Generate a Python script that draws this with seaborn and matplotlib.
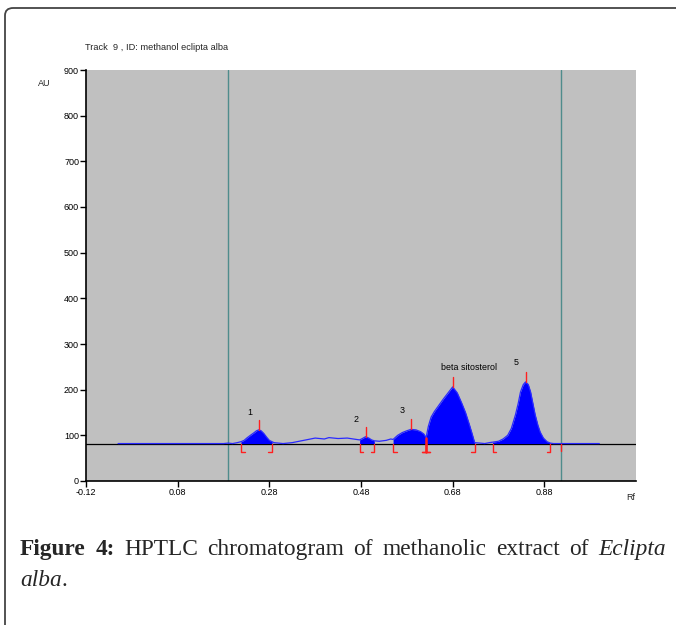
import numpy as np
import pandas as pd
import matplotlib
matplotlib.use("Agg")
import matplotlib.pyplot as plt
import seaborn as sns
from matplotlib.patches import FancyBboxPatch

# densitometric trace (Rf, AU)
rf = [-0.05, 0.18, 0.19, 0.20, 0.21, 0.218, 0.225, 0.232, 0.24, 0.247, 0.252, 0.257,
      0.262, 0.268, 0.274, 0.28, 0.286, 0.29, 0.30, 0.31, 0.33, 0.35, 0.37, 0.38,
      0.40, 0.41, 0.43, 0.45, 0.47, 0.477, 0.483, 0.49, 0.497, 0.503, 0.509, 0.52,
      0.535, 0.545, 0.55, 0.56, 0.57, 0.58, 0.589, 0.60, 0.61, 0.617, 0.622,
      0.627, 0.633, 0.64, 0.65, 0.66, 0.67, 0.68, 0.69, 0.70, 0.708, 0.716, 0.722,
      0.728, 0.74, 0.75, 0.76, 0.767, 0.78, 0.79, 0.80, 0.808, 0.817, 0.823, 0.828,
      0.834, 0.839, 0.845, 0.85, 0.855, 0.86, 0.866, 0.871, 0.878, 0.886, 0.893,
      0.90, 0.92, 1.0]
au = [82, 82, 83, 82, 84, 86, 89, 95, 101, 106, 110, 112,
      110, 104, 96, 89, 86, 84, 83, 82, 84, 88, 92, 94,
      92, 95, 93, 94, 91, 90, 93, 97, 94, 90, 88, 87,
      89, 92, 91, 100, 106, 110, 113, 112, 108, 103, 95,
      120, 140, 152, 166, 180, 193, 206, 193, 170, 150, 125, 105,
      84, 83, 82, 84, 85, 87, 92, 100, 115, 145, 170, 195,
      211, 217, 211, 195, 170, 145, 122, 107, 94, 86, 83,
      82, 82, 82]
baseline = 82

peak_labels = ["1", "2", "3", "beta sitosterol", "5"]
peak_start = [0.218, 0.477, 0.550, 0.622, 0.767]
peak_end = [0.286, 0.509, 0.622, 0.728, 0.893]
peak_max_rf = [0.257, 0.49, 0.589, 0.68, 0.839]
peak_max_au = [112, 97, 113, 206, 217]

front_lines = [0.19, 0.917]
xticks = [-0.12, 0.08, 0.28, 0.48, 0.68, 0.88]
yticks = list(range(0, 1000, 100))

df = pd.DataFrame({"Rf": rf, "AU": au})

sns.set_style("white")
plt.rcParams["font.family"] = ["Liberation Sans", "DejaVu Sans"]

fig = plt.figure(figsize=(6.76, 6.25), dpi=100)

# outer frame (rounded corner at top-left)
frame = FancyBboxPatch((5 / 676, -0.2), 1.3, 1.2 - 8 / 625,
                       boxstyle="round,pad=0,rounding_size=0.012",
                       transform=fig.transFigure, fill=False,
                       edgecolor="#444444", linewidth=1.3)
fig.patches.append(frame)

ax = fig.add_axes([86 / 676, 1 - 481 / 625, 550 / 676, 411 / 625])
ax.set_facecolor("#c0c0c0")
ax.set_xlim(-0.12, 1.08)
ax.set_ylim(0, 900)

# baseline across the whole plate
ax.axhline(baseline, color="black", linewidth=0.9, zorder=2)
for f in front_lines:
    ax.axvline(f, color="#4f8c8c", linewidth=1.0, zorder=1)

# filled peak areas
x = np.array(rf)
y = np.array(au)
for s, e in zip(peak_start, peak_end):
    m = (x >= s - 1e-9) & (x <= e + 1e-9)
    ax.fill_between(x[m], baseline, y[m], color="#0000ff", linewidth=0, zorder=3)

sns.lineplot(data=df, x="Rf", y="AU", color="#2a2aff", linewidth=0.9, ax=ax,
             zorder=4, estimator=None, sort=False)

red = "#ff2020"
# apex ticks
for r, a in zip(peak_max_rf, peak_max_au):
    ax.plot([r, r], [a, a + 22], color=red, linewidth=1.0, zorder=5)
# start / end brackets
for s, e in zip(peak_start, peak_end):
    ax.plot([s, s, s + 0.008], [baseline, 63, 63], color=red, linewidth=1.0, zorder=5)
    ax.plot([e, e, e - 0.008], [baseline, 63, 63], color=red, linewidth=1.0, zorder=5)
ax.plot([0.622, 0.622], [95, 63], color=red, linewidth=1.8, zorder=5)
ax.plot([0.614, 0.630], [63, 63], color=red, linewidth=1.0, zorder=5)
ax.plot([front_lines[1], front_lines[1]], [baseline, 66], color=red, linewidth=1.0, zorder=5)

# peak labels
lab_pos = [(0.231, 140), (0.463, 125), (0.565, 145), (0.655, 238), (0.813, 250)]
for t, (px, py) in zip(peak_labels, lab_pos):
    ax.text(px, py, t, fontsize=6.4, ha="left", va="bottom", color="black")

ax.set_xticks(xticks)
ax.set_xticklabels([f"{v:.2f}" for v in xticks])
ax.set_yticks(yticks)
ax.tick_params(axis="both", direction="out", length=4, width=1, labelsize=6.5,
               colors="black", pad=1)
ax.tick_params(left=True, bottom=True)
for side in ["top", "right"]:
    ax.spines[side].set_visible(False)
for side in ["left", "bottom"]:
    ax.spines[side].set_color("black")
    ax.spines[side].set_linewidth(1.2)
ax.set_xlabel("")
ax.set_ylabel("")

fig.text(85 / 676, 1 - 47 / 625, "Track  9 , ID: methanol eclipta alba",
         fontsize=6.7, va="center", ha="left")
fig.text(38 / 676, 1 - 84 / 625, "AU", fontsize=6.5, va="center", ha="left")
fig.text(626 / 676, 1 - 497 / 625, "Rf", fontsize=6.5, va="center", ha="left")

# caption: first line justified, mixed styles
fig.canvas.draw()
renderer = fig.canvas.get_renderer()
cap_size = 16.8
cap_font = "Liberation Serif"

words1 = [("Figure", {"weight": "bold"}), ("4:", {"weight": "bold"}),
          ("HPTLC", {}), ("chromatogram", {}), ("of", {}), ("methanolic", {}),
          ("extract", {}), ("of", {}), ("Eclipta", {"style": "italic"})]
x_left, x_right = 20 / 676, 666 / 676
texts = []
total = 0
for w, kw in words1:
    t = fig.text(0, 1 - 555 / 625, w, fontsize=cap_size, family=cap_font,
                 va="baseline", ha="left", **kw)
    wd = t.get_window_extent(renderer=renderer).width / fig.bbox.width
    texts.append((t, wd))
    total += wd
gap = (x_right - x_left - total) / (len(texts) - 1)
xpos = x_left
for t, wd in texts:
    t.set_x(xpos)
    xpos += wd + gap

xpos = x_left
for w, kw in [("alba", {"style": "italic"}), (".", {})]:
    t = fig.text(xpos, 1 - 586 / 625, w, fontsize=cap_size, family=cap_font,
                 va="baseline", ha="left", **kw)
    xpos += t.get_window_extent(renderer=renderer).width / fig.bbox.width

fig.savefig("out.png", dpi=100)
